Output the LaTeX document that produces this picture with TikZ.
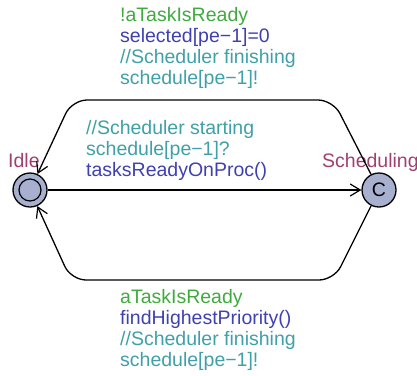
\documentclass[tikz,border=0pt]{standalone}
\usepackage{fontspec}
\setmainfont{Liberation Sans}
\usetikzlibrary{arrows.meta}
\definecolor{guardcol}{RGB}{64,170,64}
\definecolor{updatecol}{RGB}{64,64,176}
\definecolor{synccol}{RGB}{64,160,168}
\definecolor{namecol}{RGB}{160,64,112}
\definecolor{locfill}{RGB}{168,176,208}
\newcommand{\lbl}[1]{\begin{tabular}[t]{@{}l@{}}#1\end{tabular}}
\begin{document}
\begin{tikzpicture}[x=1pt,y=-1pt,
  every node/.style={font=\fontsize{19.5}{21.3}\selectfont},
  loc/.style={circle,draw,line width=1.3pt,fill=locfill,minimum size=34pt,inner sep=0pt},
  locname/.style={text=namecol,inner sep=0pt},
  edge/.style={line width=1.3pt,rounded corners=15pt,-{Straight Barb[length=10pt,width=12pt,line width=1.2pt]}},
  elabel/.style={inner sep=0pt,anchor=base west}]
\useasboundingbox (0,0) rectangle (417,375);

% locations
\node[loc] (idle) at (30,190) {};
\node[circle,draw,line width=1.2pt,minimum size=22pt,inner sep=0pt] (idleinit) at (idle) {};
\node[loc] (sched) at (379,190) {C};
\node[locname,anchor=base west] (idlename) at (8,167) {Idle};
\node[locname,anchor=base west] (schedname) at (322,167) {Scheduling};

% transitions
\draw[edge] (sched) -- (333,100) -- (72,100) -- (idle);
\draw[edge] (idle) -- (sched);
\draw[edge] (sched) -- (334,280) -- (71,280) -- (idle);

% transition labels
\node[elabel] (toplabel) at (120,21) {\lbl{%
  \textcolor{guardcol}{!aTaskIsReady}\\
  \textcolor{updatecol}{selected[pe−1]=0}\\
  \textcolor{synccol}{//Scheduler finishing}\\
  \textcolor{synccol}{schedule[pe−1]!}}};
\node[elabel] (midlabel) at (86,134) {\lbl{%
  \textcolor{synccol}{//Scheduler starting}\\
  \textcolor{synccol}{schedule[pe−1]?}\\
  \textcolor{updatecol}{tasksReadyOnProc()}}};
\node[elabel] (botlabel) at (120,303) {\lbl{%
  \textcolor{guardcol}{aTaskIsReady}\\
  \textcolor{updatecol}{findHighestPriority()}\\
  \textcolor{synccol}{//Scheduler finishing}\\
  \textcolor{synccol}{schedule[pe−1]!}}};
\end{tikzpicture}
\end{document}
